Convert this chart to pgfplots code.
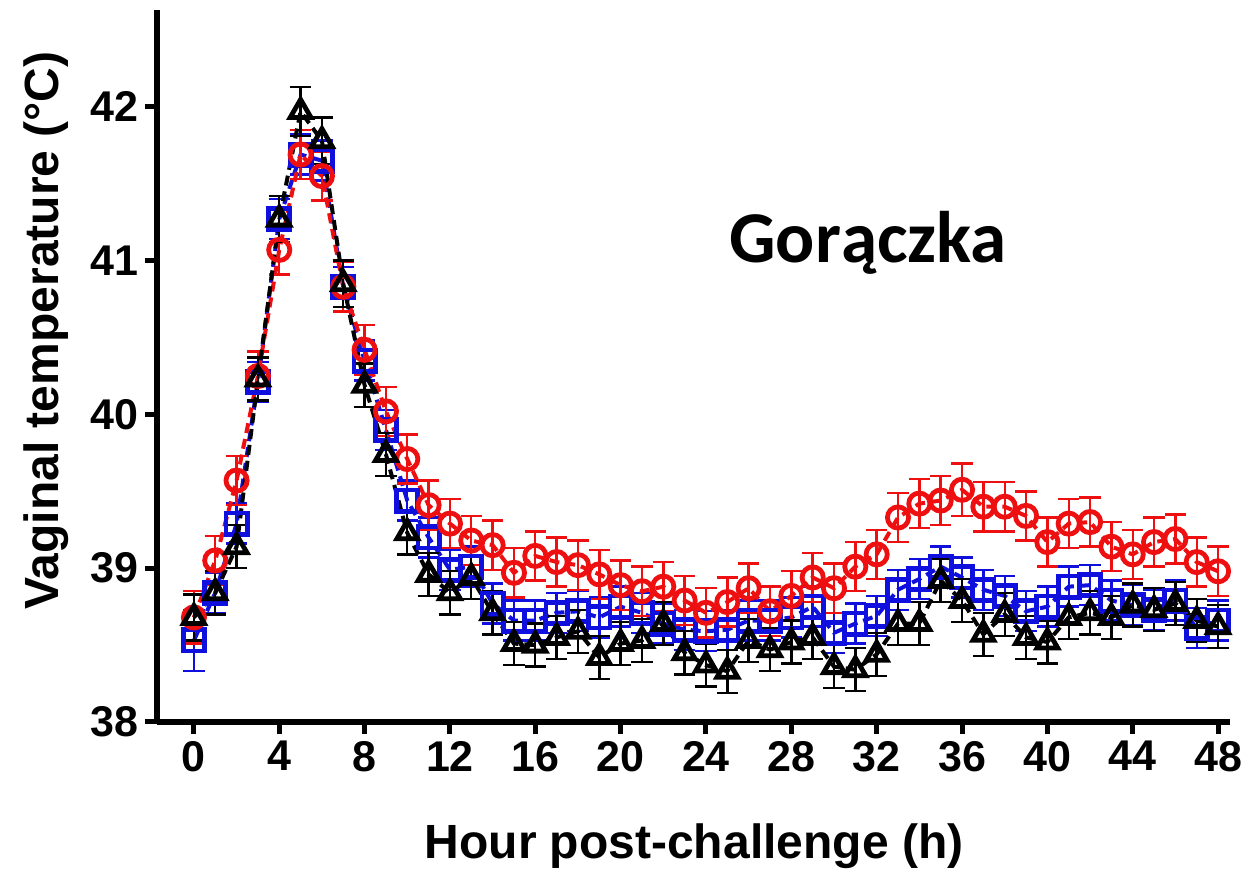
\documentclass[border=0pt]{standalone}
\usepackage{fontspec}
\setmainfont{Liberation Sans}
\newfontfamily\titlefont{Carlito}
\usepackage{pgfplots}
\usepackage{pgfplotstable}
\pgfplotsset{compat=1.18}
\definecolor{cred}{RGB}{238,16,16}
\definecolor{cblue}{RGB}{16,16,222}
\pgfplotstableread{
h r re b be k ke
0 38.68 0.17 38.53 0.20 38.68 0.15
1 39.05 0.16 38.84 0.13 38.84 0.14
2 39.57 0.16 39.29 0.13 39.14 0.14
3 40.25 0.16 40.21 0.13 40.23 0.14
4 41.07 0.16 41.27 0.13 41.27 0.15
5 41.69 0.16 41.69 0.13 41.97 0.16
6 41.55 0.16 41.65 0.13 41.78 0.15
7 40.83 0.16 40.83 0.13 40.85 0.15
8 40.42 0.16 40.35 0.13 40.19 0.14
9 40.02 0.16 39.90 0.13 39.74 0.14
10 39.71 0.16 39.44 0.13 39.23 0.14
11 39.41 0.16 39.20 0.13 38.96 0.14
12 39.29 0.16 38.99 0.13 38.84 0.14
13 39.18 0.16 39.01 0.13 38.94 0.14
14 39.15 0.16 38.77 0.13 38.71 0.14
15 38.97 0.16 38.66 0.13 38.51 0.14
16 39.08 0.16 38.66 0.13 38.50 0.14
17 39.04 0.16 38.71 0.13 38.55 0.14
18 39.02 0.16 38.72 0.13 38.59 0.14
19 38.96 0.16 38.68 0.13 38.42 0.14
20 38.89 0.16 38.75 0.13 38.51 0.14
21 38.85 0.16 38.71 0.13 38.53 0.14
22 38.88 0.16 38.64 0.13 38.64 0.14
23 38.79 0.16 38.60 0.13 38.45 0.14
24 38.71 0.16 38.59 0.13 38.37 0.14
25 38.78 0.16 38.60 0.13 38.33 0.14
26 38.87 0.16 38.66 0.13 38.53 0.14
27 38.72 0.16 38.66 0.13 38.47 0.14
28 38.82 0.16 38.68 0.13 38.52 0.14
29 38.94 0.16 38.75 0.13 38.55 0.14
30 38.87 0.16 38.58 0.13 38.36 0.14
31 39.01 0.16 38.64 0.13 38.34 0.14
32 39.09 0.16 38.69 0.13 38.44 0.14
33 39.33 0.16 38.86 0.13 38.64 0.14
34 39.42 0.16 38.93 0.13 38.64 0.14
35 39.44 0.16 39.01 0.13 38.92 0.14
36 39.51 0.17 38.94 0.13 38.79 0.14
37 39.40 0.16 38.86 0.13 38.57 0.14
38 39.40 0.16 38.82 0.13 38.70 0.14
39 39.34 0.16 38.72 0.13 38.55 0.14
40 39.17 0.16 38.75 0.13 38.52 0.14
41 39.29 0.16 38.88 0.13 38.68 0.14
42 39.30 0.16 38.89 0.13 38.71 0.14
43 39.14 0.16 38.79 0.13 38.68 0.14
44 39.09 0.16 38.76 0.13 38.76 0.14
45 39.17 0.16 38.73 0.13 38.73 0.14
46 39.19 0.16 38.79 0.13 38.77 0.14
47 39.04 0.16 38.61 0.13 38.66 0.14
48 38.98 0.16 38.66 0.13 38.62 0.14
}\data
\begin{document}
\begin{tikzpicture}
\begin{axis}[
  at={(0,0)}, anchor=south west,
  scale only axis, width=536.5pt, height=356pt,
  xmin=-1.73, xmax=48.56, ymin=38, ymax=42.63,
  axis x line*=bottom, axis y line*=left,
  axis line style={line width=3pt, black},
  tick style={line width=2.5pt, black},
  tick align=outside, major tick length=6pt,
  xtick={0,4,...,48}, ytick={38,39,40,41,42},
  minor tick num=0,
  /pgf/number format/assume math mode=true,
  ticklabel style={font=\fontsize{21.5}{21.5}\selectfont\bfseries},
  xlabel={Hour post-challenge (h)},
  ylabel={Vaginal temperature (°C)},
  label style={font=\fontsize{24}{24}\selectfont\bfseries},
  xlabel style={at={(axis description cs:0.5005,-0.174)}, anchor=center},
  ylabel style={at={(axis description cs:-0.1034,0.55)}, anchor=center},
  clip=false,
]
\addplot[cblue, line width=2pt, dash pattern=on 5pt off 3pt,
  mark=square, mark size=5.3pt, mark options={solid, line width=2.4pt},
  error bars/.cd, y dir=both, y explicit,
  error bar style={line width=1.2pt, solid, cblue},
  error mark options={rotate=90, mark size=5.3pt, line width=1.2pt, cblue}]
  table[x=h, y=b, y error=be] {\data};
\addplot[cred, line width=2pt, dash pattern=on 5pt off 3pt,
  mark=o, mark size=5.3pt, mark options={solid, line width=2.4pt},
  error bars/.cd, y dir=both, y explicit,
  error bar style={line width=1.2pt, solid, cred},
  error mark options={rotate=90, mark size=5.3pt, line width=1.2pt, cred}]
  table[x=h, y=r, y error=re] {\data};
\addplot[black, line width=2pt, dash pattern=on 5pt off 3pt,
  mark=triangle, mark size=6pt, mark options={solid, line width=2.4pt},
  error bars/.cd, y dir=both, y explicit,
  error bar style={line width=1.2pt, solid, black},
  error mark options={rotate=90, mark size=5.3pt, line width=1.2pt, black}]
  table[x=h, y=k, y error=ke] {\data};
\node[anchor=base, font=\titlefont\bfseries\fontsize{36.5}{36.5}\selectfont] at (axis cs:31.6,40.99) {Gorączka};
\end{axis}
\pgfresetboundingbox
\path (-78.5pt,-75pt) rectangle (550.5pt,361pt);
\end{tikzpicture}
\end{document}
